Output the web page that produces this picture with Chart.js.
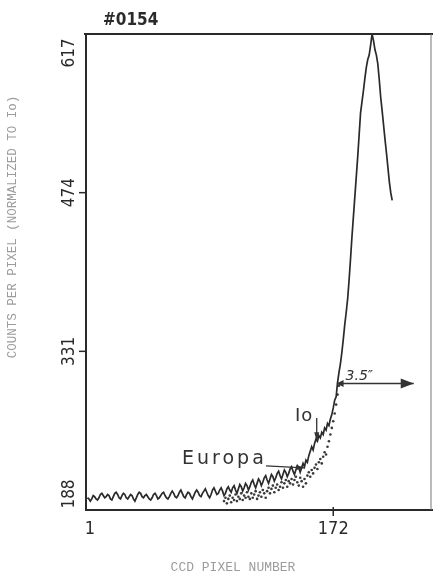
<!DOCTYPE html>
<html>
<head>
<meta charset="utf-8">
<script src="https://cdn.jsdelivr.net/npm/chart.js@4"></script>
<style>
  html, body { margin: 0; padding: 0; background: #fff; }
  #wrap { width: 435px; height: 576px; }
</style>
</head>
<body>
<div id="wrap"><canvas id="profile" width="435" height="576"></canvas></div>
<script>
// CCD scan #0154 - counts per pixel, normalized to Io
const frameLabel = "#0154";
const yTicks = [188, 331, 474, 617];
const xTicks = [1, 172];
const xRange = [0, 240];

// solid trace, pixels 1..213
const solidStart = 1;
const solidCounts = [
    199, 198, 196, 198, 201, 200, 198, 197, 199, 202,
    203, 201, 199, 200, 202, 201, 198, 197, 200, 203,
    204, 202, 199, 198, 201, 203, 202, 199, 198, 200,
    202, 201, 198, 196, 199, 202, 204, 203, 200, 199,
    201, 202, 200, 198, 197, 199, 202, 203, 201, 198,
    199, 201, 203, 204, 201, 199, 198, 200, 203, 205,
    203, 200, 199, 201, 204, 206, 203, 200, 199, 202,
    204, 203, 200, 198, 201, 204, 206, 204, 201, 200,
    203, 205, 207, 204, 201, 199, 202, 206, 208, 205,
    202, 203, 206, 208, 205, 201, 203, 207, 209, 206,
    204, 208, 210, 206, 203, 207, 211, 209, 205, 208,
    212, 210, 206, 209, 213, 215, 211, 208, 212, 216,
    214, 210, 213, 217, 219, 215, 212, 216, 220, 218,
    214, 217, 221, 223, 219, 216, 220, 224, 222, 218,
    221, 225, 227, 223, 220, 224, 228, 226, 222, 226,
    230, 227, 233, 231, 237, 241, 245, 242, 248, 252,
    250, 255, 253, 258, 256, 262, 260, 266, 264, 270,
    274, 280, 287, 290, 303, 312, 320, 330, 342, 355,
    366, 378, 395, 414, 434, 452, 470, 488, 506, 526,
    546, 556, 566, 577, 587, 594, 598, 607, 617, 611,
    603, 598, 590, 576, 560, 548, 535, 522, 510, 497,
    484, 474, 467
];

// dotted trace, pixels 96..176
const dottedStart = 96;
const dottedCounts = [
    196, 199, 194, 198, 201, 195, 199, 197, 202, 196,
    200, 198, 203, 197, 201, 199, 204, 200, 198, 203,
    199, 202, 205, 198, 201, 204, 200, 206, 203, 199,
    205, 208, 203, 207, 210, 204, 208, 211, 206, 209,
    213, 208, 212, 215, 209, 214, 212, 216, 211, 215,
    218, 213, 210, 217, 214, 209, 216, 212, 219, 222,
    218, 224, 221, 226, 229, 225, 231, 234, 230, 236,
    240, 238, 245, 250, 256, 262, 268, 275, 283, 292, 300
];

const toPoints = (start, values) => values.map((v, i) => ({ x: start + i, y: v }));

const ink = "#2a2a2a";
const pale = "#9c9c9c";
const tickFont = '17px "Liberation Sans Narrow", "DejaVu Sans Condensed", sans-serif';

function arrowHead(ctx, x, y, angle, len, half) {
    ctx.save();
    ctx.translate(x, y);
    ctx.rotate(angle);
    ctx.beginPath();
    ctx.moveTo(0, 0);
    ctx.lineTo(-len, -half);
    ctx.lineTo(-len, half);
    ctx.closePath();
    ctx.fill();
    ctx.restore();
}

// frame, ticks, titles and labels drawn over the plot area
const framePlugin = {
    id: "frame",
    afterDraw(chart) {
        const { ctx, chartArea: a, scales } = chart;
        const xs = scales.x, ys = scales.y;
        ctx.save();
        ctx.strokeStyle = ink;
        ctx.fillStyle = ink;

        // box
        ctx.lineWidth = 2;
        ctx.beginPath();
        ctx.moveTo(a.left - 2, a.top);
        ctx.lineTo(a.right + 2, a.top);
        ctx.moveTo(a.left, a.top);
        ctx.lineTo(a.left, a.bottom);
        ctx.lineTo(a.right + 2, a.bottom);
        ctx.stroke();
        ctx.lineWidth = 1;
        ctx.strokeStyle = "#777";
        ctx.beginPath();
        ctx.moveTo(a.right, a.top);
        ctx.lineTo(a.right, a.bottom);
        ctx.stroke();
        ctx.strokeStyle = ink;

        // y ticks and rotated labels
        ctx.font = tickFont;
        ctx.textAlign = "center";
        ctx.textBaseline = "middle";
        ctx.lineWidth = 1.5;
        yTicks.forEach((v) => {
            const py = ys.getPixelForValue(v);
            if (py > a.top + 2 && py < a.bottom - 2) {
                ctx.beginPath();
                ctx.moveTo(a.left - 7, py);
                ctx.lineTo(a.left, py);
                ctx.stroke();
            }
            const cy = Math.min(Math.max(py, a.top + 19), a.bottom - 16);
            ctx.save();
            ctx.translate(a.left - 16, cy);
            ctx.rotate(-Math.PI / 2);
            ctx.fillText(String(v), 0, 0);
            ctx.restore();
        });

        // x ticks and labels
        ctx.font = '18px "Liberation Sans Narrow", "DejaVu Sans Condensed", sans-serif';
        xTicks.forEach((v) => {
            const px = xs.getPixelForValue(v);
            if (px > a.left + 3) {
                ctx.beginPath();
                ctx.moveTo(px, a.bottom - 3);
                ctx.lineTo(px, a.bottom + 6);
                ctx.stroke();
            }
            ctx.fillText(String(v), Math.max(px, a.left + 4), a.bottom + 19);
        });

        // frame number
        ctx.textAlign = "left";
        ctx.font = 'bold 17px "Liberation Sans Narrow", "DejaVu Sans Condensed", sans-serif';
        ctx.fillText(frameLabel, a.left + 17, 21);

        // axis titles
        ctx.fillStyle = pale;
        ctx.textAlign = "center";
        ctx.font = '13px "Liberation Mono", "DejaVu Sans Mono", monospace';
        ctx.fillText("CCD PIXEL NUMBER", 233, 568);
        ctx.save();
        ctx.translate(13, 227);
        ctx.rotate(-Math.PI / 2);
        ctx.font = '12.5px "Liberation Mono", "DejaVu Sans Mono", monospace';
        ctx.fillText("COUNTS PER PIXEL (NORMALIZED TO Io)", 0, 0);
        ctx.restore();

        // annotations
        ctx.fillStyle = "#333";
        ctx.strokeStyle = "#333";
        ctx.textBaseline = "alphabetic";
        ctx.textAlign = "left";
        ctx.font = '19px "DejaVu Sans", sans-serif';
        ctx.letterSpacing = "3px";
        ctx.fillText("Europa", 182, 464);
        ctx.letterSpacing = "1px";
        ctx.font = '18px "DejaVu Sans", sans-serif';
        ctx.fillText("Io", 295, 421);
        ctx.letterSpacing = "0px";

        // Europa pointer
        const ex = xs.getPixelForValue(152), ey = ys.getPixelForValue(226);
        ctx.lineWidth = 1.3;
        ctx.beginPath();
        ctx.moveTo(266, ey - 2);
        ctx.lineTo(ex, ey);
        ctx.stroke();
        arrowHead(ctx, ex, ey, Math.atan2(2, ex - 266), 8, 2.5);

        // Io pointer
        const ix = xs.getPixelForValue(160.5), iy = ys.getPixelForValue(250);
        ctx.beginPath();
        ctx.moveTo(ix, 418);
        ctx.lineTo(ix, iy);
        ctx.stroke();
        arrowHead(ctx, ix, iy, Math.PI / 2, 9, 2.5);

        // 3.5" offset arrow
        const sx = xs.getPixelForValue(175), sy = ys.getPixelForValue(302);
        const tx = xs.getPixelForValue(228);
        ctx.beginPath();
        ctx.moveTo(sx, sy);
        ctx.lineTo(tx, sy);
        ctx.stroke();
        arrowHead(ctx, tx, sy, 0, 13, 5);
        arrowHead(ctx, sx - 1, sy, Math.PI, 7, 3.5);
        ctx.font = 'italic 14px "DejaVu Sans", sans-serif';
        ctx.fillText("3.5\u2033", sx + 8, sy - 4);

        ctx.restore();
    }
};

new Chart(document.getElementById("profile"), {
    type: "line",
    data: {
        datasets: [
            {
                data: toPoints(solidStart, solidCounts),
                borderColor: ink,
                borderWidth: 1.7,
                pointRadius: 0,
                tension: 0,
                fill: false,
            },
            {
                data: toPoints(dottedStart, dottedCounts),
                showLine: false,
                pointRadius: 1.3,
                pointBackgroundColor: "#3a3a3a",
                pointBorderWidth: 0,
                borderColor: "#3a3a3a",
            },
        ],
    },
    options: {
        responsive: false,
        animation: false,
        devicePixelRatio: 1,
        layout: { padding: { left: 86, top: 34, right: 2, bottom: 66 } },
        plugins: {
            legend: { display: false },
            tooltip: { enabled: false },
        },
        scales: {
            x: { type: "linear", min: xRange[0], max: xRange[1], display: false },
            y: { type: "linear", min: yTicks[0], max: yTicks[yTicks.length - 1], display: false },
        },
    },
    plugins: [framePlugin],
});
</script>
</body>
</html>
